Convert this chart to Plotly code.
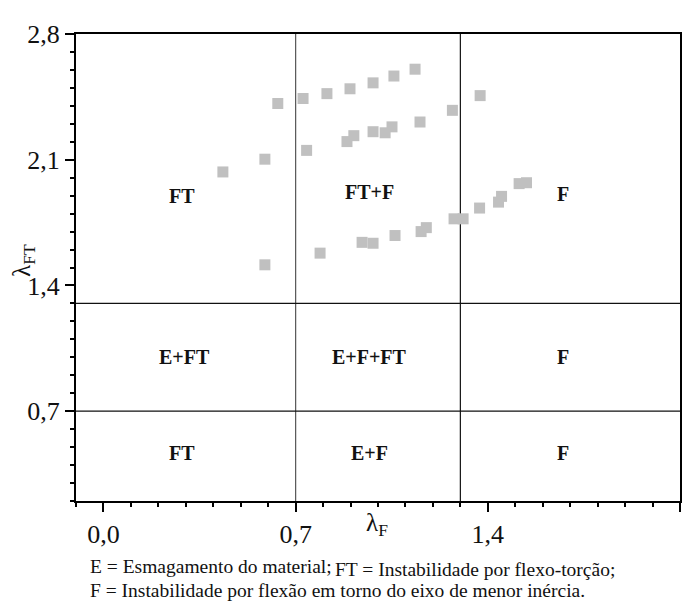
import plotly.graph_objects as go

# Data (lambda_F, lambda_FT)
top_x = [0.635, 0.727, 0.814, 0.898, 0.982, 1.058, 1.135, 1.372]
top_y = [2.413, 2.441, 2.468, 2.495, 2.528, 2.566, 2.604, 2.457]

mid_x = [0.435, 0.588, 0.740, 0.887, 0.912, 0.982, 1.026, 1.051, 1.153, 1.271]
mid_y = [2.032, 2.103, 2.152, 2.201, 2.234, 2.256, 2.250, 2.283, 2.310, 2.375]

low_x = [0.588, 0.789, 0.942, 0.982, 1.062, 1.157, 1.176, 1.277, 1.310, 1.370, 1.439, 1.450, 1.514, 1.541]
low_y = [1.515, 1.580, 1.640, 1.635, 1.678, 1.700, 1.722, 1.771, 1.771, 1.831, 1.864, 1.896, 1.967, 1.972]

# Region boundaries
v_lines = [0.7, 1.3]
h_lines = [0.7, 1.3]

# Region labels
region_labels = ["FT", "FT+F", "F", "E+FT", "E+F+FT", "F", "FT", "E+F", "F"]
region_x = [0.285, 0.97, 1.675, 0.295, 0.97, 1.675, 0.285, 0.97, 1.675]
region_y = [1.90, 1.92, 1.91, 1.00, 1.00, 1.00, 0.47, 0.47, 0.47]

x_range = [-0.1, 2.1]
y_range = [0.2, 2.8]

FONT = "Liberation Serif, Times New Roman, serif"

fig = go.Figure()
for xs, ys in [(top_x, top_y), (mid_x, mid_y), (low_x, low_y)]:
    fig.add_trace(go.Scatter(
        x=xs, y=ys, mode="markers",
        marker=dict(symbol="square", size=11, color="#c0c0c0", line=dict(width=0)),
        showlegend=False, hoverinfo="x+y"))

for i, v in enumerate(v_lines):
    fig.add_shape(type="line", xref="x", yref="paper", x0=v, x1=v, y0=0, y1=1,
                  line=dict(color="#555555" if i == 0 else "#111111", width=1.2), layer="below")
for h in h_lines:
    fig.add_shape(type="line", xref="paper", yref="y", x0=0, x1=1, y0=h, y1=h,
                  line=dict(color="#111111", width=1.2), layer="below")

for t, x, y in zip(region_labels, region_x, region_y):
    fig.add_annotation(x=x, y=y, xref="x", yref="y", text="<b>%s</b>" % t,
                       showarrow=False, font=dict(family=FONT, size=20, color="#111111"))

# axis titles
fig.add_annotation(x=0.498, y=-0.05, xref="paper", yref="paper", text="λ<sub>F</sub>",
                   showarrow=False, font=dict(family=FONT, size=25, color="#111111"),
                   xanchor="center", yanchor="middle")
fig.add_annotation(x=-0.087, y=0.515, xref="paper", yref="paper", text="λ<sub>FT</sub>",
                   showarrow=False, textangle=-90, font=dict(family=FONT, size=25, color="#111111"),
                   xanchor="center", yanchor="middle")

# footnotes
fig.add_annotation(x=0.02, y=-0.14, xref="paper", yref="paper",
                   text="E = Esmagamento do material;", showarrow=False,
                   font=dict(family=FONT, size=19.5, color="#111111"), xanchor="left", yanchor="middle")
fig.add_annotation(x=0.425, y=-0.146, xref="paper", yref="paper",
                   text="FT = Instabilidade por flexo-torção;", showarrow=False,
                   font=dict(family=FONT, size=19.5, color="#111111"), xanchor="left", yanchor="middle")
fig.add_annotation(x=0.02, y=-0.192, xref="paper", yref="paper",
                   text="F = Instabilidade por flexão em torno do eixo de menor inércia.", showarrow=False,
                   font=dict(family=FONT, size=19.5, color="#111111"), xanchor="left", yanchor="middle")

axis_common = dict(
    showgrid=False, zeroline=False, showline=True, linecolor="black", linewidth=2,
    mirror=True, ticks="outside", ticklen=9, tickwidth=1.5, tickcolor="black",
    tickfont=dict(family=FONT, size=26, color="#111111"), tickformat=".1f",
    tick0=0, dtick=0.7,
    minor=dict(dtick=0.1, ticks="outside", ticklen=4, tickwidth=1.5, tickcolor="black", showgrid=False),
)

fig.update_layout(
    width=686, height=593,
    margin=dict(l=68, r=14, t=15, b=100),
    plot_bgcolor="white", paper_bgcolor="white",
    separators=",.",
    font=dict(family=FONT, color="#111111"),
    xaxis=dict(range=x_range, **axis_common),
    yaxis=dict(range=y_range, **axis_common),
)

fig.write_html("out.html")
